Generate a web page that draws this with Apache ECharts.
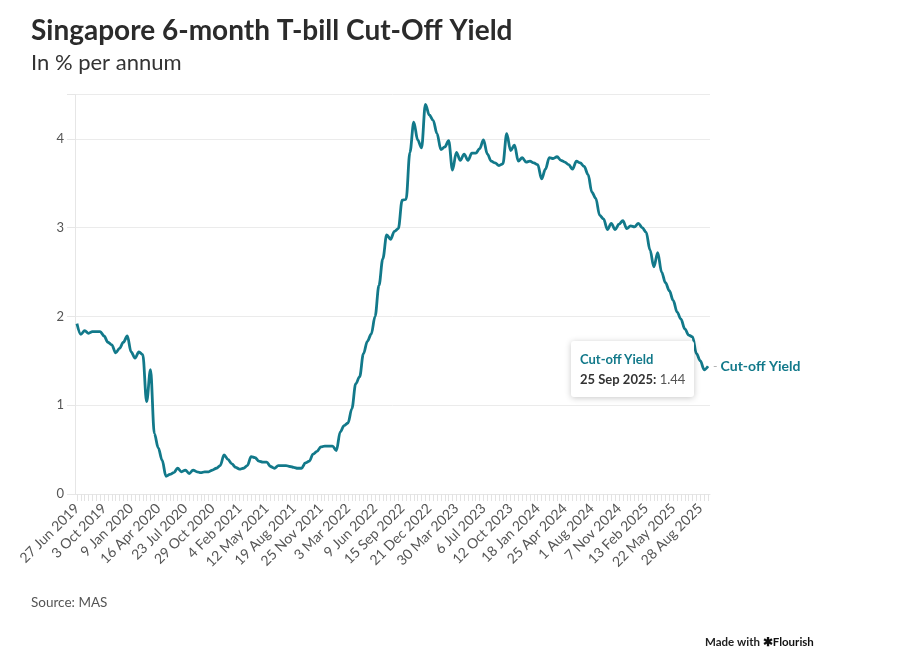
<!DOCTYPE html>
<html><head><meta charset="utf-8">
<script src="https://cdn.jsdelivr.net/npm/echarts@6/dist/echarts.min.js"></script>
<style>html,body{margin:0;padding:0;background:#fff;}#c{width:903px;height:669px;}</style>
</head><body><div id="c"></div>
<script>
// Auction dates: biweekly from 27 Jun 2019, with holiday-shifted dates
const startDate = [2019, 5, 27];
const dateOverrides = { 49: '12 May 2021', 91: '21 Dec 2022' };
const seriesName = 'Cut-off Yield';
const yields = [
 1.92,1.80,1.84,1.81,1.83,1.83,1.83,1.78,1.71,1.68,
 1.59,1.64,1.71,1.78,1.60,1.53,1.60,1.57,1.04,1.40,
 0.68,0.52,0.38,0.20,0.22,0.24,0.29,0.25,0.27,0.23,
 0.27,0.25,0.24,0.25,0.25,0.27,0.29,0.32,0.44,0.39,
 0.34,0.30,0.28,0.29,0.32,0.42,0.41,0.37,0.36,0.36,
 0.31,0.29,0.32,0.32,0.32,0.31,0.30,0.29,0.29,0.35,
 0.37,0.45,0.48,0.53,0.54,0.54,0.54,0.49,0.70,0.77,
 0.80,0.96,1.24,1.32,1.58,1.72,1.80,2.00,2.35,2.65,
 2.92,2.87,2.96,2.99,3.31,3.32,3.85,4.19,3.99,3.90,
 4.39,4.27,4.21,4.06,3.88,3.91,3.98,3.65,3.85,3.76,
 3.83,3.76,3.84,3.84,3.89,3.99,3.83,3.75,3.73,3.70,
 3.72,4.06,3.87,3.93,3.75,3.79,3.74,3.75,3.73,3.71,
 3.55,3.66,3.79,3.78,3.80,3.76,3.74,3.71,3.66,3.75,
 3.73,3.69,3.60,3.40,3.33,3.14,3.10,2.98,3.05,2.98,
 3.04,3.08,2.99,3.02,3.01,3.05,3.00,2.95,2.75,2.56,
 2.72,2.50,2.38,2.29,2.18,2.05,1.97,1.86,1.79,1.77,
 1.58,1.50,1.40,1.44
];
const yTicks = [0, 1, 2, 3, 4];

const MONTHS = ['Jan','Feb','Mar','Apr','May','Jun','Jul','Aug','Sep','Oct','Nov','Dec'];
const categories = yields.map(function (v, i) {
  if (dateOverrides[i]) return dateOverrides[i];
  const d = new Date(Date.UTC(startDate[0], startDate[1], startDate[2] + 14 * i));
  return d.getUTCDate() + ' ' + MONTHS[d.getUTCMonth()] + ' ' + d.getUTCFullYear();
});

const FONT = 'Lato, "Noto Sans", sans-serif';
const TEAL = '#12798a';
const chart = echarts.init(document.getElementById('c'), null, { renderer: 'canvas' });
chart.setOption({
  animation: false,
  backgroundColor: '#fff',
  textStyle: { fontFamily: FONT },
  title: [
    { text: 'Singapore 6-month T-bill Cut-Off Yield', left: 26, top: 12,
      textStyle: { fontFamily: FONT, fontSize: 28, fontWeight: 'bold', color: '#2b2b2b' } },
    { text: 'In % per annum', left: 26, top: 47,
      textStyle: { fontFamily: FONT, fontSize: 22, fontWeight: 'normal', color: '#333' } },
    { text: 'Source: MAS', left: 26, top: 591,
      textStyle: { fontFamily: FONT, fontSize: 13.5, fontWeight: 'normal', color: '#555' } },
    { text: '{a|Made with }{b|✱Flourish}', left: 700, top: 631,
      textStyle: { rich: {
        a: { fontFamily: FONT, fontSize: 11.5, color: '#222' },
        b: { fontFamily: FONT, fontSize: 11.5, fontWeight: 'bold', color: '#111' } } } }
  ],
  grid: { left: 75, right: 193, top: 94.6, bottom: 175 },
  tooltip: {
    trigger: 'axis',
    axisPointer: { type: 'none' },
    alwaysShowContent: true,
    showDelay: 0,
    transitionDuration: 0,
    backgroundColor: '#fff',
    borderWidth: 0,
    padding: [8, 9],
    extraCssText: 'box-shadow:0 1px 6px rgba(0,0,0,0.22);border-radius:3px;',
    formatter: function (ps) {
      const p = ps[0];
      return '<div style="font-family:' + FONT.replace(/"/g, "'") + ';line-height:20px">' +
        '<div style="color:' + TEAL + ';font-weight:bold;font-size:13px">' + p.seriesName + '</div>' +
        '<div style="font-size:13px;color:#333"><b>' + p.name + ':</b> <span style="color:#555">' +
        p.value.toFixed(2) + '</span></div></div>';
    },
    position: function (point, params, dom, rect, size) {
      return [point[0] - size.contentSize[0] - 14, point[1] - size.contentSize[1] / 2 + 3];
    }
  },
  xAxis: {
    type: 'category',
    data: categories,
    boundaryGap: true,
    axisLine: { show: true, lineStyle: { color: '#e6e6e6', width: 1 } },
    axisTick: { show: true, interval: 0, alignWithLabel: true, length: 7,
      lineStyle: { color: '#e3e3e3', width: 1 } },
    axisLabel: { interval: 6, rotate: 45, margin: 12, fontFamily: FONT, fontSize: 14, color: '#555' },
    splitLine: { show: false }
  },
  yAxis: {
    type: 'value',
    min: 0, max: 4.5, interval: 1,
    axisLine: { show: true, lineStyle: { color: '#e6e6e6', width: 1 } },
    axisTick: { show: true, length: 8, lineStyle: { color: '#e6e6e6' } },
    axisLabel: { margin: 11, fontFamily: FONT, fontSize: 13, color: '#555',
      formatter: function (v) { return yTicks.indexOf(v) >= 0 ? String(v) : ''; } },
    splitLine: { show: true, lineStyle: { color: '#ebebeb', width: 1 } }
  },
  series: [{
    name: seriesName,
    type: 'line',
    data: yields,
    symbol: 'none',
    smooth: 0.35,
    smoothMonotone: 'x',
    lineStyle: { color: TEAL, width: 2.8 },
    itemStyle: { color: TEAL },
    emphasis: { disabled: true },
    endLabel: {
      show: true,
      distance: 5,
      formatter: '{d|-} {n|' + seriesName + '}',
      rich: {
        d: { color: '#aaa', fontSize: 12, fontFamily: FONT },
        n: { color: TEAL, fontSize: 14, fontWeight: 'bold', fontFamily: FONT }
      }
    }
  }]
});
chart.dispatchAction({ type: 'showTip', seriesIndex: 0, dataIndex: yields.length - 1 });
</script></body></html>
